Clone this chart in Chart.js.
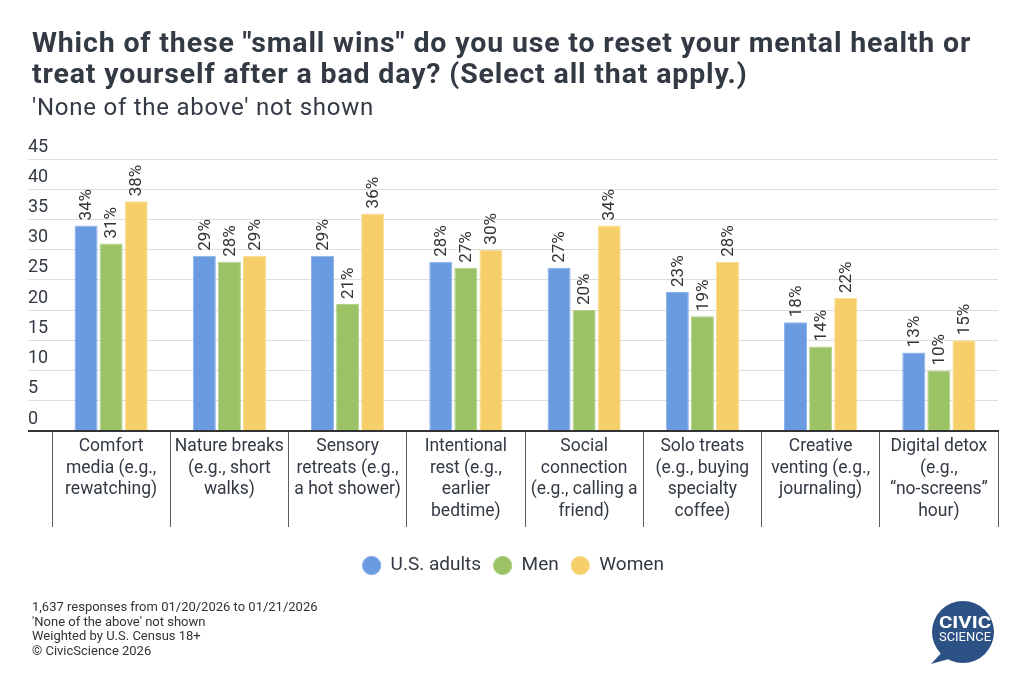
<!DOCTYPE html>
<html>
<head>
<meta charset="utf-8">
<script src="https://cdn.jsdelivr.net/npm/chart.js@4.4.1/dist/chart.umd.min.js"></script>
<style>
  html, body { margin: 0; padding: 0; background: #ffffff; }
  body { width: 1024px; height: 687px; position: relative; overflow: hidden; font-family: Roboto, "Noto Sans", sans-serif; }
  #chart { position: absolute; left: 0; top: 0; }
  .title { position: absolute; left: 32px; top: 26.75px; font-size: 28.5px; letter-spacing: 0.85px; line-height: 31px; font-weight: 700; color: #333a44; white-space: nowrap; }
  .subtitle { position: absolute; left: 32px; top: 95.3px; font-size: 24px; letter-spacing: 0.75px; line-height: 24px; color: #333a44; white-space: nowrap; }
  .footer { position: absolute; left: 32px; top: 600px; font-size: 13px; line-height: 14.5px; color: #333333; white-space: nowrap; }
  .logo { position: absolute; left: 925px; top: 595px; }
</style>
</head>
<body>
<canvas id="chart" width="1024" height="687"></canvas>
<div class="title">Which of these "small wins" do you use to reset your mental health or<br>treat yourself after a bad day? (Select all that apply.)</div>
<div class="subtitle">'None of the above' not shown</div>
<div class="footer">1,637 responses from 01/20/2026 to 01/21/2026<br>'None of the above' not shown<br>Weighted by U.S. Census 18+<br>© CivicScience 2026</div>
<svg class="logo" width="80" height="75" viewBox="925 595 80 75">
  <polygon points="944,650 931,664 956,657" fill="#2c5185"/>
  <circle cx="963" cy="632" r="31" fill="#2c5185"/>
  <text x="939" y="627.5" fill="#ffffff" font-family="Roboto, sans-serif" font-weight="700" font-size="17" textLength="52" lengthAdjust="spacingAndGlyphs">CIVIC</text>
  <text x="939" y="640.5" fill="#ffffff" font-family="Roboto, sans-serif" font-weight="400" font-size="12.5" textLength="52" lengthAdjust="spacingAndGlyphs">SCIENCE</text>
</svg>
<script>
const categories = [
  ["Comfort", "media (e.g.,", "rewatching)"],
  ["Nature breaks", "(e.g., short", "walks)"],
  ["Sensory", "retreats (e.g.,", "a hot shower)"],
  ["Intentional", "rest (e.g.,", "earlier", "bedtime)"],
  ["Social", "connection", "(e.g., calling a", "friend)"],
  ["Solo treats", "(e.g., buying", "specialty", "coffee)"],
  ["Creative", "venting (e.g.,", "journaling)"],
  ["Digital detox", "(e.g.,", "\u201cno-screens\u201d", "hour)"]
];
const seriesNames = ["U.S. adults", "Men", "Women"];
const usAdults = [34, 29, 29, 28, 27, 23, 18, 13];
const men = [31, 28, 21, 27, 20, 19, 14, 10];
const women = [38, 29, 36, 30, 34, 28, 22, 15];
const yTicks = [0, 5, 10, 15, 20, 25, 30, 35, 40, 45];

const fills = ["#6a9be0", "#9bc265", "#f6cf6b"];
const borders = ["#8db2ea", "#b3d18a", "#f9dc93"];

Chart.defaults.font.family = "Roboto, 'Noto Sans', sans-serif";
Chart.defaults.color = "#333a44";

const barLabels = {
  id: "barLabels",
  afterDatasetsDraw(chart) {
    const ctx = chart.ctx;
    ctx.save();
    ctx.font = "17px Roboto, 'Noto Sans', sans-serif";
    ctx.fillStyle = "#333333";
    ctx.textAlign = "left";
    ctx.textBaseline = "middle";
    chart.data.datasets.forEach((ds, di) => {
      const meta = chart.getDatasetMeta(di);
      meta.data.forEach((el, i) => {
        ctx.save();
        ctx.translate(el.x, el.y - 5);
        ctx.rotate(-Math.PI / 2);
        ctx.fillText(ds.data[i] + "%", 0, 1);
        ctx.restore();
      });
    });
    ctx.restore();
  }
};

const datasets = [usAdults, men, women].map((vals, k) => ({
  label: seriesNames[k],
  data: vals,
  backgroundColor: fills[k],
  borderColor: borders[k],
  borderWidth: 1,
  categoryPercentage: 0.636,
  barPercentage: 0.92
}));

new Chart(document.getElementById("chart"), {
  type: "bar",
  data: { labels: categories, datasets: datasets },
  options: {
    responsive: false,
    animation: false,
    layout: { padding: { left: 28, right: 26, top: 159, bottom: 102 } },
    plugins: {
      tooltip: { enabled: false },
      title: { display: false },
      legend: {
        position: "bottom",
        labels: {
          usePointStyle: true,
          pointStyle: "circle",
          boxWidth: 20,
          boxHeight: 13,
          padding: 12,
          color: "#333a44",
          font: { size: 19 }
        }
      }
    },
    scales: {
      x: {
        offset: true,
        grid: {
          offset: true,
          drawOnChartArea: false,
          drawTicks: true,
          tickLength: 96,
          color: "#5e5e5e",
          lineWidth: 1
        },
        border: { display: true, color: "#333333", width: 2 },
        ticks: {
          autoSkip: false,
          maxRotation: 0,
          minRotation: 0,
          padding: -91,
          color: "#333a44",
          font: { size: 17.5, lineHeight: 1.23 }
        },
        afterFit(scale) { scale.height = 113; }
      },
      y: {
        min: 0,
        max: 45,
        afterBuildTicks(scale) { scale.ticks = yTicks.map(v => ({ value: v })); },
        grid: {
          drawTicks: true,
          tickLength: 24,
          color: (c) => (c.tick && c.tick.value === 0 ? "#333333" : "#dedede"),
          lineWidth: (c) => (c.tick && c.tick.value === 0 ? 2 : 1)
        },
        border: { display: false },
        ticks: {
          crossAlign: "far",
          labelOffset: -12,
          padding: 0,
          color: "#333a44",
          font: { size: 18 }
        },
        afterFit(scale) { scale.width = 24; }
      }
    }
  },
  plugins: [barLabels]
});
</script>
</body>
</html>
